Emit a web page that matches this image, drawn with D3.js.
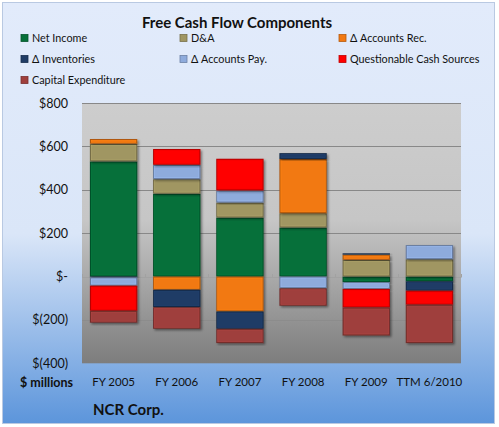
<!DOCTYPE html>
<html>
<head>
<meta charset="utf-8">
<style>
  body { margin: 0; background: #fff; }
  svg text { font-family: Lato, "Open Sans", sans-serif; fill: #111; }
</style>
<script src="https://d3js.org/d3.v7.min.js"></script>
</head>
<body>
<svg width="499" height="427"></svg>
<script>
// values ($ millions)
var years = ["FY 2005", "FY 2006", "FY 2007", "FY 2008", "FY 2009", "TTM 6/2010"];
var netIncome    = [531, 382, 272, 226, -26, -22];
var da           = [81, 67, 69, 66, 77, 80];
var acctsRec     = [22, -61, -161, 250, 24, 0];
var inventories  = [-4, -80, -80, 27, 6, -43];
var acctsPay     = [-38, 66, 56, -54, -31, 65];
var questionable = [-116, 73, 146, 0, -86, -65];
var capex        = [-55, -100, -66, -81, -129, -177];
var yTicks = [-400, -200, 0, 200, 400, 600, 800];

var seriesNames = ["Net Income", "D&A", "\u0394 Accounts Rec.", "\u0394 Inventories",
                   "\u0394 Accounts Pay.", "Questionable Cash Sources", "Capital Expenditure"];
var seriesVals = [netIncome, da, acctsRec, inventories, acctsPay, questionable, capex];
var colors = ["#06703a", "#a09662", "#f27912", "#1f3c66", "#8eabdc", "#ff0000", "#9f3f3d"];

var rows = years.map(function(y, i) {
  var r = {year: y};
  seriesNames.forEach(function(n, k) { r[n] = seriesVals[k][i]; });
  return r;
});

var svg = d3.select("svg");
var defs = svg.append("defs");

var bg = defs.append("linearGradient").attr("id", "bg").attr("x1", 0).attr("y1", 0).attr("x2", 0).attr("y2", 1);
bg.append("stop").attr("offset", "0%").attr("stop-color", "#e2ebfb");
bg.append("stop").attr("offset", "55%").attr("stop-color", "#dae6f8");
bg.append("stop").attr("offset", "100%").attr("stop-color", "#5c95db");

var pg = defs.append("linearGradient").attr("id", "plotbg").attr("x1", 0).attr("y1", 0).attr("x2", 0).attr("y2", 1);
pg.append("stop").attr("offset", "0%").attr("stop-color", "#cdcdcd");
pg.append("stop").attr("offset", "45%").attr("stop-color", "#c6c6c6");
pg.append("stop").attr("offset", "100%").attr("stop-color", "#7d7d7d");

var sh = defs.append("filter").attr("id", "shadow").attr("x", "-20%").attr("y", "-20%").attr("width", "140%").attr("height", "140%");
sh.append("feDropShadow").attr("dx", 1.5).attr("dy", 1.5).attr("stdDeviation", 1.2)
  .attr("flood-color", "#000").attr("flood-opacity", 0.45);

// chart background
svg.append("rect").attr("x", 2.5).attr("y", 2.5).attr("width", 492).attr("height", 421)
  .attr("fill", "url(#bg)").attr("stroke", "#b9c9e2");

var plot = {left: 82, right: 461, top: 103, bottom: 363.3};

var x = d3.scaleBand().domain(years).range([plot.left, plot.right])
  .paddingInner(0.25).paddingOuter(0.125);
var y = d3.scaleLinear().domain([-400, 800]).range([plot.bottom, plot.top]);

svg.append("rect").attr("x", plot.left).attr("y", plot.top)
  .attr("width", plot.right - plot.left).attr("height", plot.bottom - plot.top)
  .attr("fill", "url(#plotbg)");

// gridlines
svg.append("g").selectAll("line").data(yTicks.filter(function(t) { return t !== -400; }))
  .enter().append("line")
  .attr("x1", plot.left).attr("x2", plot.right)
  .attr("y1", function(d) { return Math.round(y(d)) + 0.5; })
  .attr("y2", function(d) { return Math.round(y(d)) + 0.5; })
  .attr("stroke", function(d) { return d === 0 ? "#a2a2a2" : (d < 0 ? "#8c8c8c" : "#888"); })
  .attr("stroke-width", 1);

// small tick marks at the zero line between categories
var step = x.step();
svg.append("g").selectAll("line").data(d3.range(years.length + 1)).enter().append("line")
  .attr("x1", function(i) { return Math.round(plot.left + i * step) + 0.5; })
  .attr("x2", function(i) { return Math.round(plot.left + i * step) + 0.5; })
  .attr("y1", Math.round(y(0)) - 3).attr("y2", Math.round(y(0)) + 0.5)
  .attr("stroke", "#a2a2a2");

// y axis labels
function fmt(v) {
  if (v === 0) return "$-";
  if (v < 0) return "$(" + (-v) + ")";
  return "$" + v;
}
svg.append("g").selectAll("text").data(yTicks).enter().append("text")
  .attr("x", 68).attr("y", function(d) { return y(d); }).attr("dy", "0.36em")
  .attr("text-anchor", "end").style("font-size", "12.5px").text(fmt);

// stacked bars
var stack = d3.stack().keys(seriesNames).offset(d3.stackOffsetDiverging);
var layers = stack(rows);

var barsG = svg.append("g");
layers.forEach(function(layer, k) {
  var c = colors[k];
  var g = barsG.append("g");
  var segs = layer.filter(function(d) { return d[1] - d[0] !== 0; });
  g.selectAll("rect.outer").data(segs).enter().append("rect")
    .attr("class", "outer")
    .attr("x", function(d) { return x(d.data.year); })
    .attr("width", x.bandwidth())
    .attr("y", function(d) { return y(d[1]); })
    .attr("height", function(d) { return y(d[0]) - y(d[1]); })
    .attr("fill", d3.color(c).darker(0.9))
    .attr("filter", "url(#shadow)");
  g.selectAll("rect.inner").data(segs.filter(function(d) { return y(d[0]) - y(d[1]) > 3; }))
    .enter().append("rect")
    .attr("class", "inner")
    .attr("x", function(d) { return x(d.data.year) + 1.5; })
    .attr("width", x.bandwidth() - 3)
    .attr("y", function(d) { return y(d[1]) + 1.5; })
    .attr("height", function(d) { return y(d[0]) - y(d[1]) - 3; })
    .attr("fill", c)
    .attr("stroke", d3.color(c).brighter(0.25))
    .attr("stroke-width", 0.8);
});

// x axis labels
svg.append("g").selectAll("text").data(years).enter().append("text")
  .attr("x", function(d) { return x(d) + x.bandwidth() / 2; })
  .attr("y", 382).attr("dy", "0.36em").attr("text-anchor", "middle")
  .style("font-size", "11.5px").text(function(d) { return d; });

svg.append("text").attr("x", 20).attr("y", 382).attr("dy", "0.36em")
  .style("font-size", "12.5px").style("font-weight", "bold").text("$ millions");

svg.append("text").attr("x", 93).attr("y", 410).attr("dy", "0.36em")
  .style("font-size", "15px").style("font-weight", "bold").text("NCR Corp.");

// title
svg.append("text").attr("x", 237).attr("y", 23).attr("dy", "0.36em")
  .attr("text-anchor", "middle").style("font-size", "15px").style("font-weight", "bold")
  .text("Free Cash Flow Components");

// legend
var legX = [21, 180, 339], legY = [38, 59, 80];
var leg = svg.append("g").selectAll("g").data(seriesNames).enter().append("g")
  .attr("transform", function(d, i) { return "translate(" + legX[i % 3] + "," + legY[Math.floor(i / 3)] + ")"; });
leg.append("rect").attr("x", 0).attr("y", -3.5).attr("width", 7).attr("height", 7)
  .attr("fill", function(d, i) { return colors[i]; })
  .attr("stroke", function(d, i) { return d3.color(colors[i]).darker(0.8); }).attr("stroke-width", 0.8);
leg.append("text").attr("x", 11).attr("y", 0).attr("dy", "0.36em")
  .style("font-size", "10.8px").text(function(d) { return d; });
</script>
</body>
</html>
